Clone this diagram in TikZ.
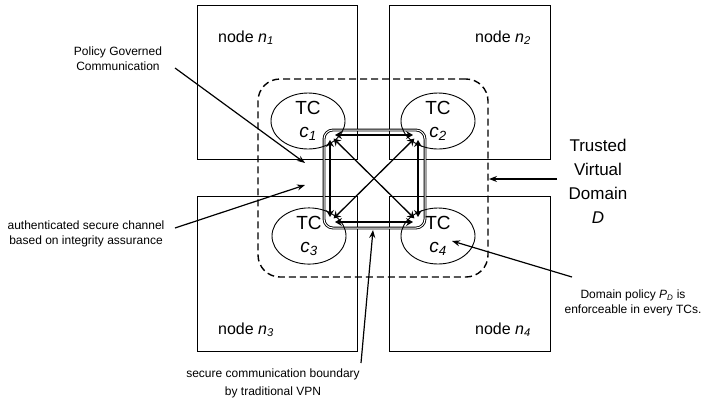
\documentclass[tikz,border=0pt]{standalone}
\usepackage{fontspec}
\setmainfont{Liberation Sans}
\usetikzlibrary{arrows.meta,shapes.geometric}

\newcommand{\itsub}[2]{\textit{#1}\textsubscript{\textit{#2}}}

\begin{document}
\begin{tikzpicture}[
    x=1pt, y=-1pt,
    hostbox/.style={draw, line width=0.9pt, inner sep=0pt},
    hostlabel/.style={font=\fontsize{16}{19}\selectfont, inner sep=0pt},
    tc/.style={draw, ellipse, line width=0.9pt, minimum width=74pt, minimum height=56pt,
        inner sep=0pt, align=center, font=\fontsize{19}{23}\selectfont},
    tvdbox/.style={draw, dash pattern=on 7pt off 4pt, line width=1.4pt,
        rounded corners=22pt, inner sep=0pt},
    vpnbox/.style={draw, double, double distance=1pt, line width=0.9pt,
        rounded corners=9pt, inner sep=0pt},
    link/.style={{Stealth[length=7pt,width=8pt,inset=2.5pt]}-{Stealth[length=7pt,width=8pt,inset=2.5pt]},
        line width=1.3pt, shorten <=5pt, shorten >=5pt},
    note/.style={align=center, font=\fontsize{12}{15}\selectfont, inner sep=0pt},
    callout/.style={-{Stealth[length=8pt,width=6pt]}, line width=1.2pt}
]
    \useasboundingbox (0,0) rectangle (707,400);

    % Hosts
    \node[hostbox, minimum width=160pt, minimum height=154pt] (n1) at (277,82) {};
    \node[hostbox, minimum width=161pt, minimum height=154pt] (n2) at (469.5,82) {};
    \node[hostbox, minimum width=160pt, minimum height=155pt] (n3) at (277,273.5) {};
    \node[hostbox, minimum width=161pt, minimum height=155pt] (n4) at (469.5,273.5) {};
    \node[hostlabel, anchor=base west] (l1) at (218,42) {node \itsub{n}{1}};
    \node[hostlabel, anchor=base east] (l2) at (531,42) {node \itsub{n}{2}};
    \node[hostlabel, anchor=base west] (l3) at (218,334) {node \itsub{n}{3}};
    \node[hostlabel, anchor=base east] (l4) at (531,334) {node \itsub{n}{4}};

    % Trusted virtual domain and VPN boundary
    \node[tvdbox, minimum width=230pt, minimum height=198pt] (tvd) at (373,178) {};
    \node[vpnbox, minimum width=101pt, minimum height=98pt] (vpn) at (374.5,179) {};

    % Trusted components
    \node[tc] (c1) at (308,121) {TC\\\itsub{c}{1}};
    \node[tc] (c2) at (438,121) {TC\\\itsub{c}{2}};
    \node[tc] (c3) at (309,236) {TC\\\itsub{c}{3}};
    \node[tc] (c4) at (438,236) {TC\\\itsub{c}{4}};

    % Secure channels
    \coordinate (p1) at (330,135);
    \coordinate (p2) at (418,135);
    \coordinate (p3) at (330,222);
    \coordinate (p4) at (418,222);
    \foreach \a/\b in {p1/p2, p1/p3, p2/p4, p3/p4, p1/p4, p2/p3}
        \draw[link] (\a) -- (\b);

    % Notes
    \node[note] (pgc) at (118,59) {Policy Governed\\Communication};
    \node[note] (asc) at (86,234) {authenticated secure channel\\based on integrity assurance};
    \node[note] (dom) at (633,303) {Domain policy \itsub{P}{D} is\\enforceable in every TCs.};
    \node[note, font=\fontsize{12}{18}\selectfont] (bnd) at (273,383) {secure communication boundary\\by traditional VPN};
    \node[align=center, inner sep=0pt, font=\fontsize{17}{24}\selectfont] (tvdl) at (598,181)
        {Trusted\\Virtual\\Domain\\\textit{D}};

    % Callouts
    \coordinate (pgc-s) at (175,68);   \coordinate (pgc-t) at (305,163);
    \coordinate (asc-s) at (175,228);  \coordinate (asc-t) at (305,185);
    \coordinate (tvd-s) at (557,179);  \coordinate (tvd-t) at (489,179);
    \coordinate (dom-s) at (572,277);  \coordinate (dom-t) at (452,241);
    \coordinate (bnd-s) at (361,363);  \coordinate (bnd-t) at (373,230);
    \draw[callout] (pgc-s) -- (pgc-t);
    \draw[callout] (asc-s) -- (asc-t);
    \draw[callout] (tvd-s) -- (tvd-t);
    \draw[callout] (dom-s) -- (dom-t);
    \draw[callout] (bnd-s) -- (bnd-t);
\end{tikzpicture}
\end{document}
